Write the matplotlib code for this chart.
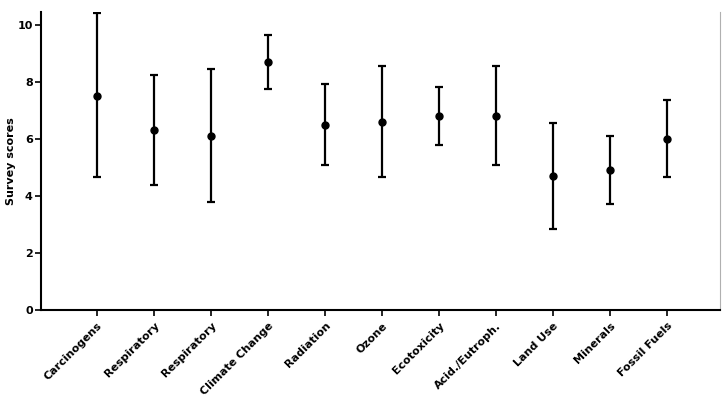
import matplotlib
matplotlib.use('Agg')
import matplotlib.pyplot as plt

# Dados do gráfico
categorias = ['Carcinogens', 'Respiratory', 'Respiratory', 'Climate Change', 'Radiation',
              'Ozone', 'Ecotoxicity', 'Acid./Eutroph.', 'Land Use', 'Minerals', 'Fossil Fuels']
medias = [7.5, 6.3, 6.1, 8.7, 6.5, 6.6, 6.8, 6.8, 4.7, 4.9, 6.0]
superior = [10.4, 8.25, 8.45, 9.65, 7.93, 8.57, 7.83, 8.57, 6.55, 6.1, 7.35]
inferior = [4.65, 4.37, 3.77, 7.75, 5.1, 4.65, 5.78, 5.07, 2.85, 3.7, 4.68]

erro_inf = [m - i for m, i in zip(medias, inferior)]
erro_sup = [s - m for m, s in zip(medias, superior)]
x = list(range(len(categorias)))

fig = plt.figure(figsize=(7.25, 3.98), dpi=100)
ax = fig.add_axes([0.0566, 0.221, 0.937, 0.749])

ax.errorbar(x, medias, yerr=[erro_inf, erro_sup], fmt='o', color='black',
            ecolor='black', elinewidth=1.6, capsize=3, capthick=1.6, markersize=5)

ax.set_xlim(-0.98, 10.93)
ax.set_ylim(0, 10.45)
ax.set_yticks([0, 2, 4, 6, 8, 10])
ax.set_xticks(x)
ax.set_xticklabels(categorias, rotation=45, ha='right', rotation_mode='anchor',
                   fontsize=8, fontweight='bold')
for rotulo in ax.get_yticklabels():
    rotulo.set_fontweight('bold')
    rotulo.set_fontsize(8)
ax.set_ylabel('Survey scores', fontsize=8, fontweight='bold', labelpad=1)

ax.spines['top'].set_visible(False)
ax.spines['right'].set_color('#b0b0b0')
ax.spines['left'].set_linewidth(1.5)
ax.spines['bottom'].set_linewidth(1.5)
ax.tick_params(axis='both', width=1.2, length=4)
ax.tick_params(axis='y', pad=2)

fig.savefig('out.png', dpi=100)
